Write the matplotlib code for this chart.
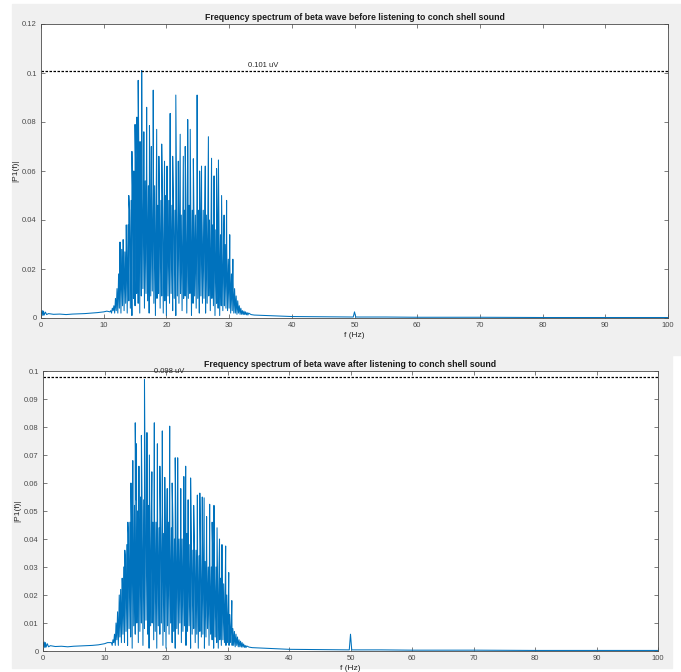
import numpy as np
import matplotlib
matplotlib.use("Agg")
import matplotlib.pyplot as plt
from matplotlib.patches import Rectangle
from matplotlib.ticker import FuncFormatter

plt.rcParams['font.family'] = ['Liberation Sans', 'DejaVu Sans']

# ---- spectrum data (|P1(f)| in uV) ----
# band 11..33 Hz on a 0.25 Hz grid: upper and lower edge of the dense part
BAND_START = 11.0
BAND_STEP = 0.25

before_hi = [0.003, 0.004, 0.005, 0.008, 0.012, 0.018, 0.024, 0.028, 0.030, 0.027,
             0.033, 0.038, 0.044, 0.048, 0.050, 0.054, 0.056, 0.058, 0.060, 0.057,
             0.062, 0.058, 0.056, 0.060, 0.054, 0.056, 0.052, 0.058, 0.054, 0.050,
             0.046, 0.052, 0.048, 0.050, 0.044, 0.050, 0.046, 0.048, 0.052, 0.046,
             0.048, 0.044, 0.050, 0.046, 0.048, 0.042, 0.046, 0.044, 0.048, 0.042,
             0.046, 0.048, 0.044, 0.046, 0.042, 0.050, 0.044, 0.046, 0.040, 0.044,
             0.046, 0.042, 0.046, 0.040, 0.042, 0.038, 0.042, 0.036, 0.038, 0.040,
             0.034, 0.032, 0.030, 0.030, 0.028, 0.024, 0.022, 0.018, 0.015, 0.012,
             0.009, 0.007, 0.005, 0.004, 0.003, 0.0028, 0.0025, 0.0022, 0.002]
before_lo = [0.0025, 0.002, 0.003, 0.002, 0.003, 0.002, 0.004, 0.002, 0.005, 0.003,
             0.006, 0.002, 0.007, 0.004, 0.001, 0.008, 0.005, 0.010, 0.006, 0.002,
             0.009, 0.012, 0.004, 0.010, 0.007, 0.002, 0.009, 0.011, 0.006, 0.001,
             0.008, 0.010, 0.004, 0.009, 0.002, 0.007, 0.001, 0.009, 0.006, 0.010,
             0.003, 0.008, 0.001, 0.009, 0.006, 0.010, 0.003, 0.008, 0.009, 0.002,
             0.008, 0.010, 0.001, 0.006, 0.009, 0.004, 0.008, 0.002, 0.009, 0.006,
             0.008, 0.002, 0.006, 0.009, 0.003, 0.008, 0.005, 0.001, 0.006, 0.004,
             0.001, 0.005, 0.003, 0.005, 0.004, 0.003, 0.004, 0.002, 0.003, 0.002,
             0.002, 0.0015, 0.002, 0.0015, 0.0015, 0.0014, 0.0014, 0.0013, 0.0012]
before_spike_f = [12.6, 13.1, 13.6, 14.0, 14.5, 14.8, 15.0, 15.3, 15.5, 15.8,
                  16.06, 16.4, 16.85, 17.3, 17.6, 17.9, 18.45, 18.8, 19.25, 19.7,
                  20.1, 20.6, 21.0, 21.5, 21.9, 22.2, 22.7, 23.0, 23.4, 23.8,
                  24.3, 24.9, 25.3, 25.6, 26.2, 26.7, 27.2, 27.6, 28.0, 28.3,
                  28.8, 29.2, 29.6, 30.1, 30.6]
before_spike_v = [0.031, 0.032, 0.038, 0.050, 0.068, 0.060, 0.079, 0.082, 0.097, 0.072,
                  0.101, 0.076, 0.086, 0.0785, 0.070, 0.093, 0.077, 0.066, 0.071, 0.064,
                  0.062, 0.0835, 0.066, 0.091, 0.064, 0.075, 0.066, 0.070, 0.081, 0.077,
                  0.065, 0.091, 0.060, 0.062, 0.062, 0.074, 0.0652, 0.058, 0.061, 0.0645,
                  0.050, 0.042, 0.048, 0.034, 0.024]
before_pre_f = [0, 0.1, 0.2, 0.3, 0.4, 0.5, 0.7, 0.9, 1.2, 2, 3, 4, 5, 6, 7, 8, 9, 10, 10.5]
before_pre_v = [0.0025, 0.0015, 0.003, 0.001, 0.0028, 0.0012, 0.0024, 0.0014, 0.0018, 0.0015,
                0.0016, 0.0014, 0.0016, 0.0017, 0.0018, 0.002, 0.0022, 0.0025, 0.0028]
before_post_f = [33.5, 34, 36, 38, 40, 45, 49.8, 50, 50.2, 55, 60, 70, 80, 90, 100]
before_post_v = [0.0014, 0.0012, 0.001, 0.0008, 0.0006, 0.0005, 0.0004, 0.0025, 0.0004,
                 0.0004, 0.0003, 0.0003, 0.0002, 0.0002, 0.0002]
before_peak = 0.101

after_hi = [0.003, 0.004, 0.006, 0.010, 0.014, 0.018, 0.022, 0.026, 0.030, 0.034,
            0.038, 0.042, 0.046, 0.048, 0.050, 0.052, 0.054, 0.050, 0.052, 0.055,
            0.050, 0.054, 0.056, 0.050, 0.052, 0.048, 0.050, 0.046, 0.050, 0.046,
            0.048, 0.044, 0.046, 0.048, 0.042, 0.046, 0.044, 0.046, 0.042, 0.044,
            0.046, 0.040, 0.044, 0.042, 0.040, 0.044, 0.040, 0.042, 0.038, 0.042,
            0.040, 0.038, 0.040, 0.036, 0.038, 0.036, 0.038, 0.034, 0.036, 0.034,
            0.036, 0.032, 0.034, 0.030, 0.032, 0.030, 0.032, 0.028, 0.030, 0.028,
            0.030, 0.026, 0.028, 0.024, 0.022, 0.020, 0.016, 0.013, 0.010, 0.008,
            0.007, 0.006, 0.005, 0.004, 0.0035, 0.003, 0.0025, 0.002, 0.0018]
after_lo = [0.003, 0.002, 0.003, 0.002, 0.004, 0.002, 0.005, 0.003, 0.006, 0.003,
            0.007, 0.002, 0.008, 0.005, 0.001, 0.009, 0.006, 0.010, 0.003, 0.007,
            0.010, 0.002, 0.008, 0.011, 0.006, 0.001, 0.009, 0.010, 0.004, 0.007,
            0.001, 0.009, 0.006, 0.010, 0.002, 0.007, 0.001, 0.009, 0.006, 0.010,
            0.003, 0.007, 0.001, 0.008, 0.006, 0.010, 0.003, 0.007, 0.009, 0.002,
            0.007, 0.009, 0.001, 0.006, 0.008, 0.003, 0.006, 0.001, 0.007, 0.005,
            0.006, 0.001, 0.005, 0.008, 0.002, 0.006, 0.004, 0.001, 0.005, 0.003,
            0.001, 0.004, 0.002, 0.004, 0.003, 0.002, 0.003, 0.002, 0.003, 0.002,
            0.002, 0.0015, 0.002, 0.0015, 0.0015, 0.0014, 0.0014, 0.0013, 0.0012]
after_spike_f = [12.4, 12.9, 13.3, 13.8, 14.3, 14.6, 15.0, 15.2, 15.6, 16.0,
                 16.5, 16.9, 17.3, 17.7, 18.1, 18.6, 19.0, 19.4, 19.8, 20.2,
                 20.6, 21.0, 21.5, 21.9, 22.4, 22.9, 23.2, 23.6, 24.0, 24.5,
                 25.1, 25.5, 25.9, 26.2, 26.6, 27.1, 27.5, 27.8, 28.3, 28.7,
                 29.1, 29.7, 30.2, 30.7]
after_spike_v = [0.020, 0.024, 0.036, 0.046, 0.060, 0.068, 0.0815, 0.074, 0.066, 0.077,
                 0.097, 0.078, 0.070, 0.064, 0.0815, 0.074, 0.066, 0.0786, 0.062, 0.058,
                 0.0803, 0.060, 0.069, 0.069, 0.058, 0.0623, 0.066, 0.054, 0.0618, 0.052,
                 0.0557, 0.0564, 0.055, 0.0547, 0.048, 0.0524, 0.046, 0.052, 0.044, 0.040,
                 0.038, 0.0375, 0.028, 0.018]
after_pre_f = [0, 0.1, 0.2, 0.3, 0.4, 0.5, 0.7, 0.9, 1.2, 2, 3, 4, 5, 6, 7, 8, 9, 10, 10.5]
after_pre_v = [0.003, 0.0015, 0.0032, 0.0012, 0.003, 0.0014, 0.0026, 0.0015, 0.0019, 0.0016,
               0.0017, 0.0015, 0.0017, 0.0018, 0.0019, 0.002, 0.0022, 0.0026, 0.003]
after_post_f = [33.5, 34, 36, 38, 40, 45, 49.8, 50, 50.2, 55, 60, 70, 80, 90, 100]
after_post_v = [0.0014, 0.0012, 0.001, 0.0008, 0.0006, 0.0005, 0.0004, 0.006, 0.0004,
                0.0004, 0.0003, 0.0003, 0.0002, 0.0002, 0.0002]
after_peak = 0.098

LINE_BLUE = '#0072BD'
PANEL_GRAY = '#f0f0f0'
AX_GRAY = '#4a4a4a'


def build_series(pre_f, pre_v, hi, lo, spike_f, spike_v, post_f, post_v):
    f_lo = BAND_START + BAND_STEP * np.arange(len(lo))
    f_hi = f_lo + BAND_STEP / 2
    f = np.concatenate([pre_f, f_lo, f_hi, spike_f, post_f])
    v = np.concatenate([pre_v, lo, hi, spike_v, post_v])
    order = np.argsort(f, kind='stable')
    return f[order], v[order]


def style_axes(ax, ymax, ystep):
    ax.set_xlim(0, 100)
    ax.set_ylim(0, ymax)
    ax.set_xticks(np.arange(0, 101, 10))
    ax.set_yticks(np.arange(0, ymax + ystep / 2, ystep))
    ax.yaxis.set_major_formatter(FuncFormatter(lambda v, p: '%g' % round(v, 4)))
    ax.tick_params(direction='in', top=True, right=True, length=3, width=0.5,
                   labelsize=5.5, colors=AX_GRAY, pad=3)
    for s in ax.spines.values():
        s.set_color(AX_GRAY)
        s.set_linewidth(0.6)
    ax.set_ylabel('|P1(f)|', fontsize=6, color='#262626', labelpad=2)
    ax.set_xlabel('f (Hz)', fontsize=6, color='#262626', labelpad=2)


fig = plt.figure(figsize=(6.81, 6.72), dpi=100)
W, H = 681, 672

# gray window backgrounds behind each plot
fig.patches.append(Rectangle((12 / W, 1 - 355 / H), 669 / W, 351 / H,
                             transform=fig.transFigure, color=PANEL_GRAY, zorder=-5))
fig.patches.append(Rectangle((12 / W, 1 - 668 / H), 660 / W, 313 / H,
                             transform=fig.transFigure, color=PANEL_GRAY, zorder=-5))

ax1 = fig.add_axes([41 / W, 1 - 318 / H, 627 / W, 294 / H])
ax2 = fig.add_axes([43 / W, 1 - 651 / H, 615 / W, 280 / H])

panels = [
    (ax1, build_series(before_pre_f, before_pre_v, before_hi, before_lo,
                       before_spike_f, before_spike_v, before_post_f, before_post_v),
     before_peak, 0.12, 0.02, 35.5,
     'Frequency spectrum of beta wave before listening to conch shell sound'),
    (ax2, build_series(after_pre_f, after_pre_v, after_hi, after_lo,
                       after_spike_f, after_spike_v, after_post_f, after_post_v),
     after_peak, 0.1, 0.01, 20.5,
     'Frequency spectrum of beta wave after listening to conch shell sound'),
]

for ax, (f, v), peak, ymax, ystep, label_x, title in panels:
    ax.plot(f, v, color=LINE_BLUE, lw=0.75)
    ax.axhline(peak, color='black', ls=(0, (2, 1.2)), lw=0.9)
    ax.text(label_x, peak + ymax * 0.004, '%g uV' % peak, fontsize=5.5,
            color='#262626', ha='center', va='bottom')
    style_axes(ax, ymax, ystep)
    ax.set_title(title, fontsize=6.3, fontweight='bold', color='#1a1a1a', pad=3)

fig.savefig('out.png', dpi=100)
